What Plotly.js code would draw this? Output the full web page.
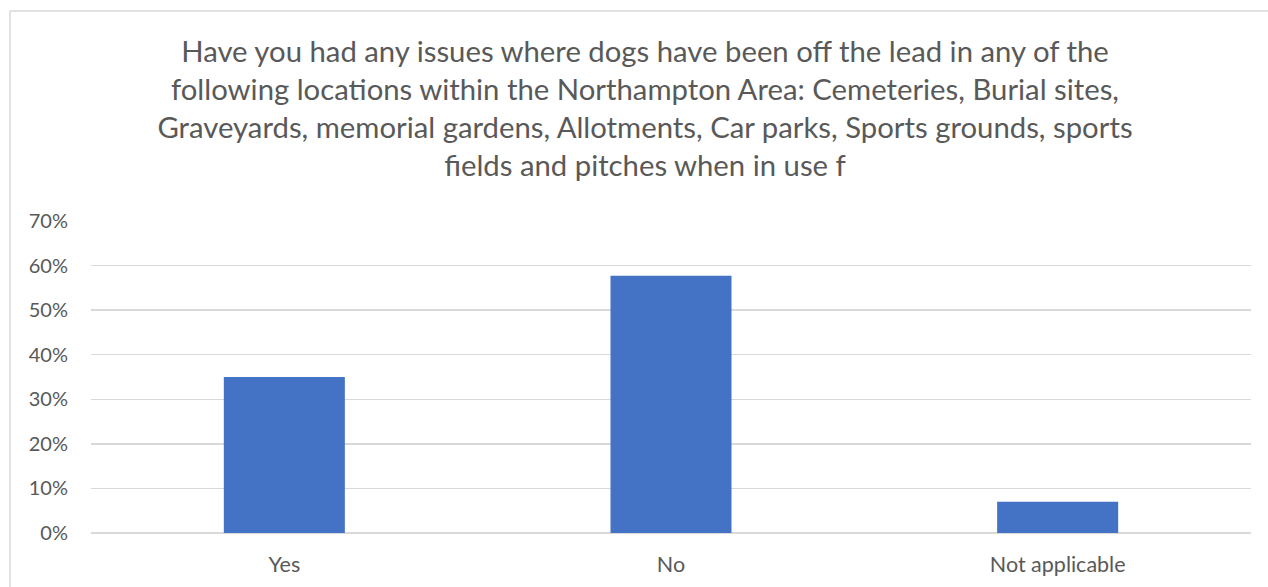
<!DOCTYPE html>
<html>
<head>
<meta charset="utf-8">
<script src="https://cdn.plot.ly/plotly-3.0.1.min.js"></script>
<style>
html,body{margin:0;padding:0;background:#fff;}
#chart{width:1268px;height:587px;}
</style>
</head>
<body>
<div id="chart"></div>
<script>
const categories = ["Yes", "No", "Not applicable"];
const values = [0.350, 0.577, 0.070];
const yTicks = [0, 0.1, 0.2, 0.3, 0.4, 0.5, 0.6, 0.7];
const titleText = "Have you had any issues where dogs have been off the lead in any of the<br>following locations within the Northampton Area: Cemeteries, Burial sites,<br>Graveyards, memorial gardens, Allotments, Car parks, Sports grounds, sports<br>fields and pitches when in use f";

const W = 1268, H = 587;
const m = {l: 91, r: 17, t: 221, b: 54};
const plotW = W - m.l - m.r, plotH = H - m.t - m.b;
const px2x = p => (p - m.l) / plotW;
const py2y = p => (H - m.b - p) / plotH;

const font = "Lato, 'Open Sans', sans-serif";
const txt = "#595959";

const data = [{
  type: "bar",
  x: categories,
  y: values,
  marker: {color: "#4472C4"},
  hoverinfo: "x+y"
}];

const layout = {
  width: W, height: H,
  margin: m,
  paper_bgcolor: "#fff",
  plot_bgcolor: "#fff",
  bargap: 0.687,
  showlegend: false,
  font: {family: font, color: txt},
  title: {
    text: titleText,
    font: {family: font, size: 29.3, color: txt},
    xref: "container", x: 645 / W, xanchor: "center",
    yref: "container", y: 1 - 62 / H, yanchor: "middle"
  },
  xaxis: {
    type: "category",
    showgrid: false,
    zeroline: false,
    showline: false,
    ticks: "",
    tickfont: {family: font, size: 21.5, color: txt},
    ticklabelstandoff: 16
  },
  yaxis: {
    range: [0, 0.7],
    tickvals: yTicks,
    tickformat: ".0%",
    showgrid: true,
    gridcolor: "#d9d9d9",
    gridwidth: 1.5,
    zeroline: true,
    zerolinecolor: "#d9d9d9",
    zerolinewidth: 1.5,
    showline: false,
    ticks: "",
    tickfont: {family: font, size: 20, color: txt},
    ticklabelstandoff: 22
  },
  shapes: [
    {type: "line", xref: "paper", yref: "paper",
     x0: px2x(10), x1: px2x(10), y0: py2y(11), y1: py2y(600),
     line: {color: "#d9d9d9", width: 1.5}},
    {type: "line", xref: "paper", yref: "paper",
     x0: px2x(10), x1: px2x(1280), y0: py2y(11), y1: py2y(11),
     line: {color: "#d9d9d9", width: 1.5}}
  ]
};

Plotly.newPlot("chart", data, layout, {displayModeBar: false, staticPlot: true});
</script>
</body>
</html>
